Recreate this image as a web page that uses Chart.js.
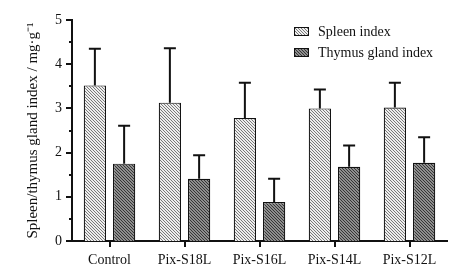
<!DOCTYPE html>
<html>
<head>
<meta charset="utf-8">
<script src="https://cdn.jsdelivr.net/npm/chart.js@4/dist/chart.umd.min.js"></script>
<style>
  html, body { margin: 0; padding: 0; background: #fff; }
  #wrap { width: 459px; height: 270px; }
</style>
</head>
<body>
<div id="wrap"><canvas id="chart" width="459" height="270"></canvas></div>
<script>
var groups = ['Control', 'Pix-S18L', 'Pix-S16L', 'Pix-S14L', 'Pix-S12L'];
var spleen = [3.52, 3.13, 2.78, 3.00, 3.02];
var spleenSd = [0.83, 1.23, 0.80, 0.43, 0.56];
var thymus = [1.75, 1.41, 0.88, 1.68, 1.77];
var thymusSd = [0.86, 0.53, 0.53, 0.48, 0.58];
var seriesNames = ['Spleen index', 'Thymus gland index'];
var yTicks = [0, 1, 2, 3, 4, 5];
var serif = "'Liberation Serif', 'Times New Roman', serif";

// diagonal hatch tile
function hatch(bg, fg, size) {
    var c = document.createElement('canvas');
    c.width = size; c.height = size;
    var g = c.getContext('2d');
    g.fillStyle = bg;
    g.fillRect(0, 0, size, size);
    g.fillStyle = fg;
    for (var i = 0; i < size; i++) {
        g.fillRect(i, i, 1, 1);
    }
    return g.createPattern(c, 'repeat');
}

var ctx = document.getElementById('chart').getContext('2d');
var spleenFill = hatch('#eeeeee', '#7a7a7a', 3);
var thymusFill = hatch('#8e8e8e', '#363636', 3);

// error bars (upper only), axis ticks, legend
var extras = {
    id: 'extras',
    afterDatasetsDraw: function(chart) {
        var c = chart.ctx;
        var yScale = chart.scales.y;
        var sds = [spleenSd, thymusSd];
        c.save();
        c.strokeStyle = '#111';
        c.lineWidth = 2;
        chart.data.datasets.forEach(function(ds, di) {
            var meta = chart.getDatasetMeta(di);
            meta.data.forEach(function(bar, i) {
                var top = yScale.getPixelForValue(ds.data[i] + sds[di][i]);
                c.beginPath();
                c.moveTo(bar.x, bar.y);
                c.lineTo(bar.x, top);
                c.moveTo(bar.x - 6, top);
                c.lineTo(bar.x + 6, top);
                c.stroke();
            });
        });
        c.restore();
    },
    afterDraw: function(chart) {
        var c = chart.ctx;
        var y = chart.scales.y, x = chart.scales.x;
        var area = chart.chartArea;
        c.save();
        c.strokeStyle = '#111';
        c.lineWidth = 2;
        c.beginPath();
        for (var v = 0; v <= 5.001; v += 0.5) {
            var py = Math.round(y.getPixelForValue(v));
            var len = (Math.abs(v - Math.round(v)) < 0.01) ? 6 : 3;
            c.moveTo(area.left, py);
            c.lineTo(area.left - len, py);
        }
        groups.forEach(function(g, i) {
            var px = Math.round(x.getPixelForValue(i));
            c.moveTo(px, area.bottom);
            c.lineTo(px, area.bottom + 6);
        });
        c.stroke();

        // legend
        var lx = 294, ly = [27, 48];
        var fills = [spleenFill, thymusFill];
        c.font = '14px ' + serif;
        c.textBaseline = 'middle';
        c.textAlign = 'left';
        c.lineWidth = 1;
        seriesNames.forEach(function(name, i) {
            c.fillStyle = fills[i];
            c.fillRect(lx, ly[i], 15, 9);
            c.strokeStyle = '#111';
            c.strokeRect(lx + 0.5, ly[i] + 0.5, 14, 8);
            c.fillStyle = '#111';
            c.fillText(name, 318, ly[i] + 5);
        });
        c.restore();
    }
};

var myChart = new Chart(ctx, {
    type: 'bar',
    data: {
        labels: groups,
        datasets: [{
            label: seriesNames[0],
            data: spleen,
            backgroundColor: spleenFill,
            borderColor: '#111',
            borderWidth: 1.2,
            barPercentage: 0.76,
            categoryPercentage: 0.78
        }, {
            label: seriesNames[1],
            data: thymus,
            backgroundColor: thymusFill,
            borderColor: '#111',
            borderWidth: 1.2,
            barPercentage: 0.76,
            categoryPercentage: 0.78
        }]
    },
    options: {
        responsive: false,
        animation: false,
        layout: { padding: { left: 0, top: 20, right: 12, bottom: 0 } },
        plugins: {
            legend: { display: false },
            tooltip: { enabled: false }
        },
        scales: {
            x: {
                grid: { display: false, drawTicks: false },
                border: { display: true, color: '#111', width: 2 },
                ticks: {
                    color: '#111',
                    font: { family: serif, size: 14 },
                    padding: 11,
                    maxRotation: 0
                },
                afterFit: function(scale) { scale.height = 29; }
            },
            y: {
                min: 0,
                max: 5,
                grid: { display: false, drawTicks: false },
                border: { display: true, color: '#111', width: 2 },
                ticks: {
                    stepSize: 1,
                    color: '#111',
                    font: { family: serif, size: 14 },
                    padding: 10,
                    callback: function(v) { return yTicks.indexOf(v) >= 0 ? v : ''; }
                },
                title: {
                    display: true,
                    text: 'Spleen/thymus gland index / mg\u00b7g\u207b\u00b9',
                    color: '#111',
                    font: { family: serif, size: 15 },
                    padding: { top: 24, bottom: 0 }
                },
                afterFit: function(scale) { scale.width = 72; }
            }
        }
    },
    plugins: [extras]
});
</script>
</body>
</html>
